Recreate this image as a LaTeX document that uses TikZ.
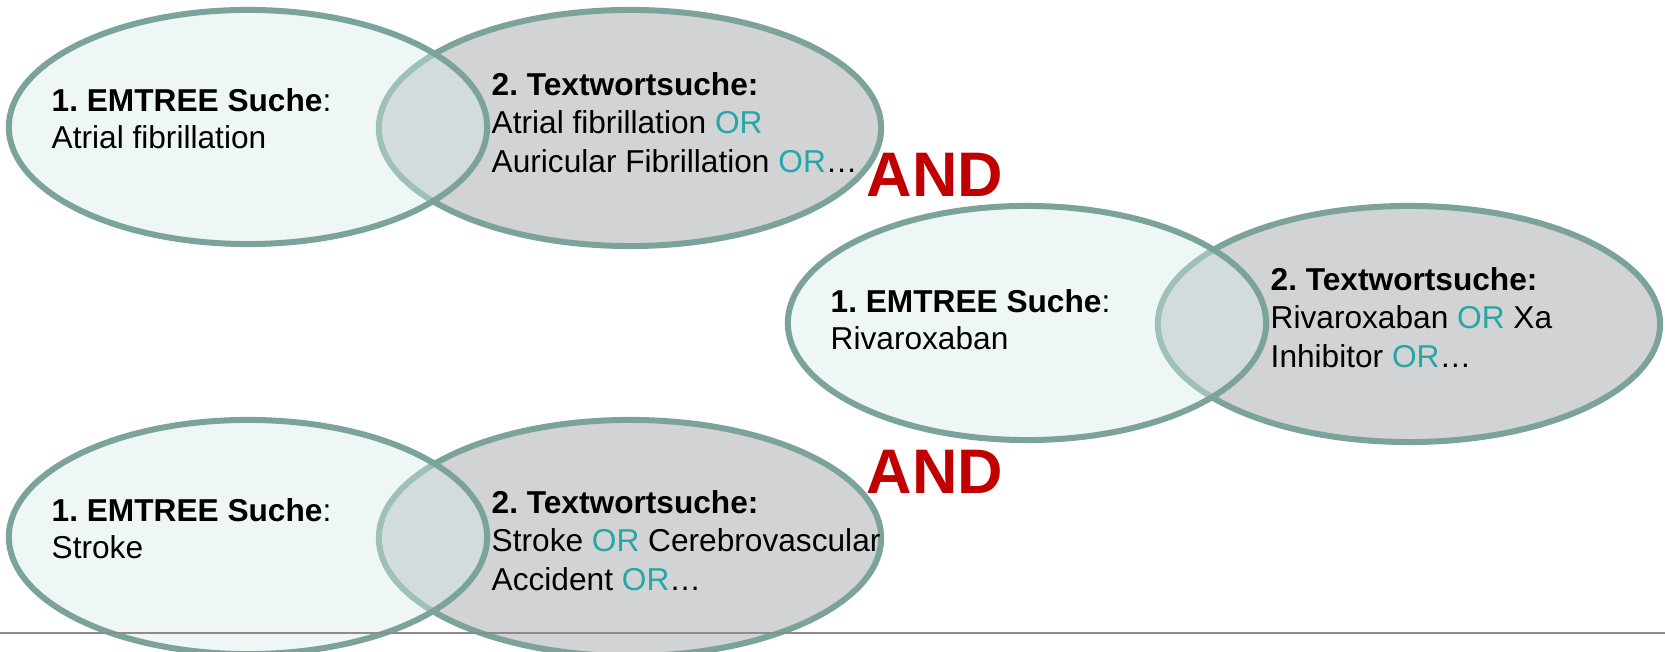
\documentclass[tikz,border=0pt]{standalone}
\usepackage{fontspec}
\setmainfont{Liberation Sans}
\usetikzlibrary{shapes.geometric}
\frenchspacing

\definecolor{rimteal}{RGB}{123,162,155}
\definecolor{leftfill}{RGB}{215,235,232}
\definecolor{rightfill}{RGB}{209,211,213}
\definecolor{orteal}{RGB}{38,166,166}
\definecolor{andred}{RGB}{192,0,0}
\definecolor{rulegray}{RGB}{140,140,140}

\newcommand{\sor}{\textcolor{orteal}{OR}}

\tikzset{
  venn/.style={ellipse, draw=rimteal, line width=0.06cm, inner sep=0pt},
  emtree/.style={venn, fill=leftfill, fill opacity=0.4, minimum width=4.78cm, minimum height=2.34cm},
  textwort/.style={venn, fill=rightfill, minimum width=5.02cm, minimum height=2.36cm},
  term/.style={anchor=north west, align=left, inner sep=0pt, font=\fontsize{9}{10.4}\selectfont},
  query/.style={term, font=\fontsize{9}{10.9}\selectfont},
  andop/.style={text=andred, inner sep=0pt, font=\fontsize{17.9}{20}\selectfont\bfseries}
}

\begin{document}
\begin{tikzpicture}[x=0.01cm, y=-0.01cm]
\useasboundingbox (0,0) rectangle (1665,652);

% Atrial fibrillation
\node[textwort] (af-text) at (630,128) {};
\node[emtree] (af-emtree) at (248,127) {};
% Rivaroxaban
\node[textwort] (riva-text) at (1409,324) {};
\node[emtree] (riva-emtree) at (1027,323) {};
% Stroke
\node[textwort] (st-text) at (630,538) {};
\node[emtree] (st-emtree) at (248,537) {};

% rule at the bottom
\coordinate (rule-l) at (0,633);
\coordinate (rule-r) at (1665,633);
\draw[rulegray, line width=0.02cm] (rule-l) -- (rule-r);

% search terms
\node[term] (af-emtree-lbl) at (51,88) {\textbf{1. EMTREE Suche}:\\Atrial fibrillation};
\node[query] (af-text-lbl) at (491,72) {\textbf{2. Textwortsuche:}\\Atrial fibrillation \sor\\Auricular Fibrillation \sor…};
\node[term] (riva-emtree-lbl) at (830,289) {\textbf{1. EMTREE Suche}:\\Rivaroxaban};
\node[query] (riva-text-lbl) at (1270,267) {\textbf{2. Textwortsuche:}\\Rivaroxaban \sor{} Xa\\Inhibitor \sor…};
\node[term] (st-emtree-lbl) at (51,498) {\textbf{1. EMTREE Suche}:\\Stroke};
\node[query] (st-text-lbl) at (491,490) {\textbf{2. Textwortsuche:}\\Stroke \sor{} Cerebrovascular\\Accident \sor…};

% operators
\node[andop] (and-a) at (935,175) {AND};
\node[andop] (and-b) at (935,472) {AND};
\end{tikzpicture}
\end{document}
